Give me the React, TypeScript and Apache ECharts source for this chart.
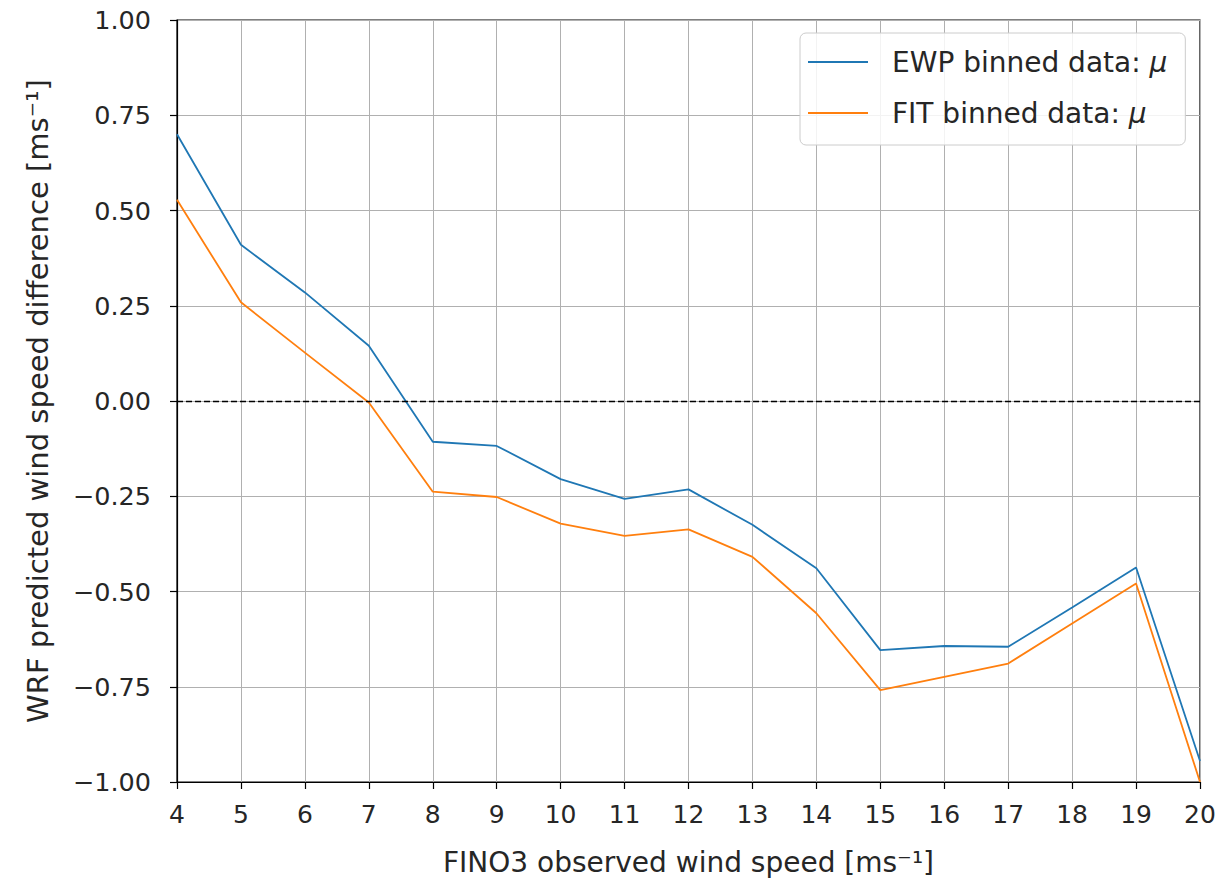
import React, { useEffect, useRef } from "react";
import * as echarts from "echarts";

const windSpeeds = [4, 5, 6, 7, 8, 9, 10, 11, 12, 13, 14, 15, 16, 17, 18, 19, 20];
const ewpMean = [0.70, 0.41, 0.285, 0.145, -0.107, -0.118, -0.205, -0.257, -0.232, -0.325, -0.439, -0.654, -0.643, -0.645, -0.542, -0.437, -0.945];
const fitMean = [0.528, 0.259, 0.127, -0.004, -0.238, -0.252, -0.322, -0.354, -0.337, -0.409, -0.557, -0.759, -0.724, -0.689, -0.584, -0.479, -1.0];
const seriesNames = ["EWP binned data: ", "FIT binned data: "];
const colors = ["#1f77b4", "#ff7f0e"];

const FONT = "DejaVu Sans";

export default function App() {
  const ref = useRef<HTMLDivElement>(null);
  useEffect(() => {
    if (!ref.current) return;
    const chart = echarts.init(ref.current, null, { renderer: "svg" });
    const toPairs = (arr: number[]) => windSpeeds.map((x, i) => [x, arr[i]]);
    chart.setOption({
      animation: false,
      backgroundColor: "#ffffff",
      textStyle: { fontFamily: FONT },
      grid: {
        left: 177,
        top: 20,
        right: 31,
        bottom: 102,
        show: true,
        borderColor: "#000",
        borderWidth: 1.2,
        backgroundColor: "transparent",
      },
      legend: {
        left: 800,
        top: 33,
        orient: "vertical",
        icon: "rect",
        itemWidth: 60,
        itemHeight: 2,
        itemGap: 21,
        padding: [14, 18, 17, 8],
        borderColor: "#cccccc",
        borderWidth: 1,
        borderRadius: 6,
        backgroundColor: "rgba(255,255,255,0.85)",
        formatter: (name: string) => `${name}{i|μ}`,
        textStyle: {
          fontFamily: FONT,
          fontSize: 28,
          lineHeight: 30,
          color: "#262626",
          padding: [0, 0, 0, 19],
          rich: {
            i: { fontFamily: FONT, fontSize: 28, lineHeight: 30, fontStyle: "italic", color: "#262626" },
          },
        },
        data: seriesNames,
      },
      xAxis: {
        type: "value",
        min: 4,
        max: 20,
        interval: 1,
        name: "FINO3 observed wind speed [ms⁻¹]",
        nameLocation: "middle",
        nameGap: 66,
        nameTextStyle: { fontFamily: FONT, fontSize: 28, color: "#262626" },
        axisLine: { show: true, onZero: false, lineStyle: { color: "#000", width: 1.2 } },
        axisTick: { show: true, inside: false, length: 7, lineStyle: { color: "#000", width: 1.2 } },
        axisLabel: { fontFamily: FONT, fontSize: 25, color: "#262626", margin: 20 },
        splitLine: { show: true, lineStyle: { color: "#b0b0b0", width: 1 } },
      },
      yAxis: {
        type: "value",
        min: -1,
        max: 1,
        interval: 0.25,
        name: "WRF predicted wind speed difference [ms⁻¹]",
        nameLocation: "middle",
        nameGap: 125,
        nameTextStyle: { fontFamily: FONT, fontSize: 29, color: "#262626" },
        axisLine: { show: true, onZero: false, lineStyle: { color: "#000", width: 1.2 } },
        axisTick: { show: true, inside: false, length: 7, lineStyle: { color: "#000", width: 1.2 } },
        axisLabel: {
          fontFamily: FONT,
          fontSize: 25.5,
          color: "#262626",
          margin: 26,
          formatter: (v: number) => (v < 0 ? "−" + Math.abs(v).toFixed(2) : v.toFixed(2)),
        },
        splitLine: { show: true, lineStyle: { color: "#b0b0b0", width: 1 } },
      },
      series: [
        {
          name: seriesNames[0],
          type: "line",
          data: toPairs(ewpMean),
          showSymbol: false,
          symbol: "none",
          lineStyle: { color: colors[0], width: 1.8 },
          itemStyle: { color: colors[0] },
          z: 3,
          markLine: {
            silent: true,
            symbol: "none",
            label: { show: false },
            lineStyle: { color: "#000", type: [6, 3], width: 1.4 },
            data: [{ yAxis: 0 }],
          },
        },
        {
          name: seriesNames[1],
          type: "line",
          data: toPairs(fitMean),
          showSymbol: false,
          symbol: "none",
          lineStyle: { color: colors[1], width: 1.8 },
          itemStyle: { color: colors[1] },
          z: 2,
        },
      ],
    });
    return () => chart.dispose();
  }, []);
  return (
    <div
      ref={ref}
      style={{ position: "absolute", left: 0, top: 0, width: 1231, height: 884 }}
    />
  );
}
